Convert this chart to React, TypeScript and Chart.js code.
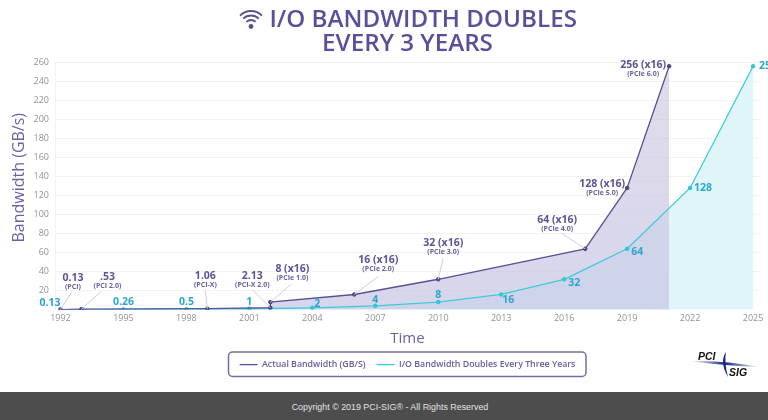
import React, { useEffect, useRef } from "react";
import { Chart, registerables } from "chart.js";

Chart.register(...registerables);

const TITLE_LINES = ["     I/O BANDWIDTH DOUBLES", "EVERY 3 YEARS"];
const X_TICK_YEARS = [1992, 1995, 1998, 2001, 2004, 2007, 2010, 2013, 2016, 2019, 2022, 2025];
const Y_TICK_VALUES = [20, 40, 60, 80, 100, 120, 140, 160, 180, 200, 220, 240, 260];

const ACTUAL_YEARS = [1992, 1993, 1999, 2002, 2002, 2006, 2010, 2017, 2019, 2021];
const ACTUAL_VALUES = [0.13, 0.53, 1.06, 2.13, 8, 16, 32, 64, 128, 256];
const ACTUAL_LABELS = ["0.13", ".53", "1.06", "2.13", "8 (x16)", "16 (x16)", "32 (x16)", "64 (x16)", "128 (x16)", "256 (x16)"];
const ACTUAL_SUBLABELS = ["(PCI)", "(PCI 2.0)", "(PCI-X)", "(PCI-X 2.0)", "(PCIe 1.0)", "(PCIe 2.0)", "(PCIe 3.0)", "(PCIe 4.0)", "(PCIe 5.0)", "(PCIe 6.0)"];

const DOUBLING_YEARS = [1992, 1995, 1998, 2001, 2004, 2007, 2010, 2013, 2016, 2019, 2022, 2025];
const DOUBLING_VALUES = [0.13, 0.26, 0.5, 1, 2, 4, 8, 16, 32, 64, 128, 256];
const DOUBLING_LABELS = ["0.13", "0.26", "0.5", "1", "2", "4", "8", "16", "32", "64", "128", "256"];

// Label placement relative to the plotted point (style, not data).
const ACTUAL_OFFSETS = [[12.5, -32], [26, -32], [-2, -33], [-18, -32], [22, -33], [24, -34], [5, -36], [-28, -29], [-25, -3.5], [-26, -1.5]];
const ACTUAL_LEADERS = [[11.5, -18], [20, -18], [-2, -18], [-18, -18], [21, -18], [24, -18], [5, -21], [-24, -16], null, null];
const DOUBLING_OFFSETS = [[-10.5, -7], [0, -7], [0, -7], [0, -7], [5, -4], [0, -6], [0, -7], [7, 6], [10, 4], [10, 3], [13, 0], [15, 0]];

const PURPLE = "#5b4f93";
const CYAN = "#3fcad8";
const FONT = "'Open Sans', sans-serif";

const annotations = {
  id: "annotations",
  afterDatasetsDraw(chart: any) {
    const { ctx, scales } = chart;
    const x = scales.x;
    const y = scales.y;
    ctx.save();
    ctx.textAlign = "center";
    ctx.textBaseline = "middle";
    ACTUAL_YEARS.forEach((year, i) => {
      const px = x.getPixelForValue(year);
      const py = y.getPixelForValue(ACTUAL_VALUES[i]);
      const leader = ACTUAL_LEADERS[i];
      if (leader) {
        ctx.strokeStyle = "#cfcfd6";
        ctx.lineWidth = 1;
        ctx.beginPath();
        ctx.moveTo(px, py);
        ctx.lineTo(px + leader[0], py + leader[1]);
        ctx.stroke();
      }
      const [dx, dy] = ACTUAL_OFFSETS[i];
      ctx.fillStyle = "#5f5296";
      ctx.font = `700 10.5px ${FONT}`;
      ctx.fillText(ACTUAL_LABELS[i], px + dx, py + dy);
      ctx.font = `700 7px ${FONT}`;
      ctx.fillStyle = "#6c609f";
      ctx.fillText(ACTUAL_SUBLABELS[i], px + dx, py + dy + 9);
    });
    DOUBLING_YEARS.forEach((year, i) => {
      const px = x.getPixelForValue(year);
      const py = y.getPixelForValue(DOUBLING_VALUES[i]);
      const [dx, dy] = DOUBLING_OFFSETS[i];
      ctx.fillStyle = "#2ba6cc";
      ctx.font = `700 10.5px ${FONT}`;
      ctx.fillText(DOUBLING_LABELS[i], px + dx, py + dy);
    });
    ctx.restore();
  },
};

const decorations = {
  id: "decorations",
  afterDraw(chart: any) {
    const { ctx, legend } = chart;
    ctx.save();
    // wifi icon beside the title
    ctx.strokeStyle = PURPLE;
    ctx.fillStyle = PURPLE;
    ctx.lineWidth = 1.8;
    const cx = 251;
    const cy = 26.5;
    [6.5, 11, 15.5].forEach((r) => {
      ctx.beginPath();
      ctx.arc(cx, cy, r, -Math.PI * 0.75, -Math.PI * 0.25);
      ctx.stroke();
    });
    ctx.beginPath();
    ctx.arc(cx, cy, 2.4, 0, Math.PI * 2);
    ctx.fill();

    // rounded frame round the legend
    const boxes = legend.legendHitBoxes;
    if (boxes && boxes.length) {
      const left = 228.5;
      const right = 586;
      const top = 352;
      const bottom = 376.5;
      ctx.strokeStyle = "#7a6aa8";
      ctx.lineWidth = 1.5;
      ctx.beginPath();
      ctx.roundRect(left, top, right - left, bottom - top, 4);
      ctx.stroke();
    }

    // PCI-SIG mark
    const grad = ctx.createLinearGradient(690, 0, 760, 0);
    grad.addColorStop(0, "rgba(30,40,120,0)");
    grad.addColorStop(0.5, "#1c2a86");
    grad.addColorStop(1, "rgba(30,40,120,0)");
    ctx.fillStyle = grad;
    ctx.beginPath();
    ctx.moveTo(690, 361);
    ctx.quadraticCurveTo(725, 360, 760, 367);
    ctx.quadraticCurveTo(725, 366, 690, 361);
    ctx.fill();
    ctx.fillStyle = "#1c2a86";
    ctx.beginPath();
    ctx.moveTo(726, 352);
    ctx.quadraticCurveTo(719, 362, 728, 377);
    ctx.quadraticCurveTo(724, 362, 726, 352);
    ctx.fill();
    ctx.fillStyle = "#111";
    ctx.textAlign = "left";
    ctx.textBaseline = "middle";
    ctx.font = "italic 700 10.5px 'Liberation Sans', sans-serif";
    ctx.fillText("PCI", 698, 357);
    ctx.fillText("SIG", 729, 373);
    ctx.restore();
  },
};

export default function App() {
  const ref = useRef<HTMLCanvasElement>(null);
  useEffect(() => {
    const canvas = ref.current!;
    const chart = new Chart(canvas, {
      type: "line",
      plugins: [annotations, decorations],
      data: {
        datasets: [
          {
            label: "Actual Bandwidth (GB/S)",
            data: ACTUAL_YEARS.map((year, i) => ({ x: year, y: ACTUAL_VALUES[i] })),
            borderColor: PURPLE,
            borderWidth: 1.3,
            pointBackgroundColor: "#4f4485",
            pointBorderColor: "#4f4485",
            pointBorderWidth: 1,
            pointRadius: 1.8,
            tension: 0,
            order: 1,
            fill: "origin",
            backgroundColor: (c: any) => {
              const area = c.chart.chartArea;
              if (!area) return "rgba(207,201,223,0.65)";
              const g = c.chart.ctx.createLinearGradient(0, area.top, 0, area.bottom);
              g.addColorStop(0, "rgba(207,201,223,0.65)");
              g.addColorStop(1, "rgba(198,198,228,0.72)");
              return g;
            },
          },
          {
            label: "I/O Bandwidth Doubles Every Three Years",
            data: DOUBLING_YEARS.map((year, i) => ({ x: year, y: DOUBLING_VALUES[i] })),
            borderColor: CYAN,
            borderWidth: 1.3,
            pointBackgroundColor: "#2fc6d6",
            pointBorderColor: "#2fc6d6",
            pointBorderWidth: 1,
            pointRadius: 1.8,
            tension: 0,
            order: 2,
            fill: "origin",
            backgroundColor: "rgba(218,243,249,0.85)",
          },
        ],
      },
      options: {
        responsive: false,
        animation: false,
        layout: { padding: { left: 0, right: 8, top: 0, bottom: 13 } },
        plugins: {
          filler: { drawTime: "beforeDatasetsDraw" },
          tooltip: { enabled: false },
          title: {
            display: true,
            fullSize: false,
            text: TITLE_LINES,
            color: "#5b4f9b",
            font: { family: FONT, size: 24.2, weight: "600", lineHeight: 1 },
            padding: { top: 8, bottom: 6 },
          },
          legend: {
            display: true,
            fullSize: false,
            position: "bottom",
            labels: {
              color: "#6a5c9e",
              font: { family: FONT, size: 8.8, weight: "600" },
              boxWidth: 18,
              boxHeight: 0,
              padding: 11,
              sort: (a: any, b: any) => a.datasetIndex - b.datasetIndex,
            },
          },
        },
        scales: {
          x: {
            type: "linear",
            min: 1991.74,
            max: 2025.33,
            afterBuildTicks: (s: any) => {
              s.ticks = X_TICK_YEARS.map((value) => ({ value }));
            },
            afterFit: (s: any) => {
              s.height = 39.5;
            },
            grid: { display: false, drawTicks: false },
            border: { display: false },
            ticks: {
              color: "#929292",
              font: { family: FONT, size: 9 },
              padding: 3,
              maxRotation: 0,
              autoSkip: false,
              callback: (v: any) => String(v),
            },
            title: {
              display: true,
              text: "Time",
              color: "#6b5fa5",
              font: { family: FONT, size: 15 },
              padding: { top: 0, bottom: 1 },
            },
          },
          y: {
            type: "linear",
            min: 0,
            max: 260,
            afterBuildTicks: (s: any) => {
              s.ticks = Y_TICK_VALUES.map((value) => ({ value }));
            },
            afterFit: (s: any) => {
              s.width = 55;
            },
            grid: { color: "#f3f3f3", drawTicks: false },
            border: { display: true, color: "#f3f3f3" },
            ticks: {
              color: "#929292",
              font: { family: FONT, size: 9 },
              padding: 6,
              callback: (v: any) => String(v),
            },
            title: {
              display: true,
              text: "    Bandwidth (GB/s)",
              color: "#6b5fa5",
              font: { family: FONT, size: 16 },
              padding: { top: 10, bottom: 0 },
            },
          },
        },
      },
    } as any);
    return () => chart.destroy();
  }, []);

  return (
    <div style={{ position: "fixed", left: 0, top: 0, width: 768, height: 420, background: "#fff", overflow: "hidden" }}>
      <canvas ref={ref} width={768} height={392} style={{ display: "block" }} />
      <div
        style={{
          height: 28,
          lineHeight: "30px",
          background: "#4d4d4d",
          color: "#e2e2e2",
          textAlign: "center",
          paddingLeft: 12,
          fontFamily: "'Liberation Sans', sans-serif",
          fontSize: 8.9,
        }}
      >
        Copyright © 2019 PCI-SIG® - All Rights Reserved
      </div>
    </div>
  );
}
